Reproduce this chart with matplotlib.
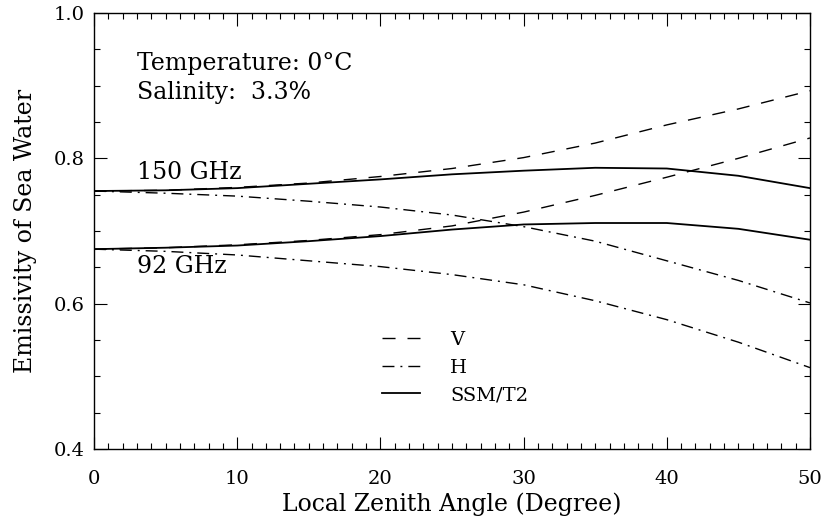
import numpy as np
import matplotlib.pyplot as plt
from matplotlib.ticker import MultipleLocator

# Data
angle = np.array([0, 5, 10, 15, 20, 25, 30, 35, 40, 45, 50])

v_150 = np.array([0.755, 0.756, 0.760, 0.766, 0.775, 0.786, 0.801, 0.821, 0.846, 0.868, 0.893])
h_150 = np.array([0.755, 0.752, 0.748, 0.741, 0.733, 0.722, 0.706, 0.686, 0.659, 0.632, 0.601])
t2_150 = np.array([0.755, 0.756, 0.759, 0.765, 0.771, 0.778, 0.783, 0.787, 0.786, 0.776, 0.759])

v_92 = np.array([0.675, 0.677, 0.681, 0.687, 0.695, 0.707, 0.726, 0.749, 0.774, 0.800, 0.828])
h_92 = np.array([0.675, 0.672, 0.667, 0.659, 0.651, 0.640, 0.626, 0.604, 0.578, 0.547, 0.512])
t2_92 = np.array([0.675, 0.677, 0.680, 0.686, 0.693, 0.702, 0.709, 0.711, 0.711, 0.703, 0.688])

freq_labels = ['150 GHz', '92 GHz']
freq_label_pos = [(3.0, 0.780), (3.0, 0.651)]

plt.rcParams['font.family'] = ['DejaVu Serif']
fs_text = 17
fs_tick = 14
fs_leg = 14

fig = plt.figure(figsize=(8.26, 5.18), dpi=100)
ax = fig.add_axes([0.1138, 0.1332, 0.8668, 0.8417])

dash = (0, (9.4, 8.6))
dashdot = (0, (8.6, 4.3, 1.4, 4.3))
lw = 1.0

ax.plot(angle, v_150, color='black', lw=lw, linestyle=dash, label='V')
ax.plot(angle, h_150, color='black', lw=lw, linestyle=dashdot, label='H')
ax.plot(angle, t2_150, color='black', lw=1.3, linestyle='-', label='SSM/T2')
ax.plot(angle, v_92, color='black', lw=lw, linestyle=dash)
ax.plot(angle, h_92, color='black', lw=lw, linestyle=dashdot)
ax.plot(angle, t2_92, color='black', lw=1.3, linestyle='-')

for txt, (x, y) in zip(freq_labels, freq_label_pos):
    ax.text(x, y, txt, fontsize=fs_text, va='center', ha='left')

ax.text(3.0, 0.931, 'Temperature: 0°C', fontsize=fs_text, va='center', ha='left')
ax.text(3.0, 0.890, 'Salinity:  3.3%', fontsize=fs_text, va='center', ha='left')

ax.legend(loc='upper left', bbox_to_anchor=(0.402, 0.271), frameon=False,
          fontsize=fs_leg, handlelength=1.96, handletextpad=1.55, labelspacing=0.5,
          borderpad=0, borderaxespad=0)

ax.set_xlim(0, 50)
ax.set_ylim(0.4, 1.0)
ax.xaxis.set_major_locator(MultipleLocator(10))
ax.xaxis.set_minor_locator(MultipleLocator(1))
ax.yaxis.set_major_locator(MultipleLocator(0.2))
ax.yaxis.set_minor_locator(MultipleLocator(0.05))
ax.tick_params(which='both', direction='in', top=True, right=True, width=0.8)
ax.tick_params(which='major', length=9, labelsize=fs_tick)
ax.tick_params(axis='x', which='major', pad=15)
ax.tick_params(axis='y', which='major', pad=7)
ax.tick_params(which='minor', length=4.5)
for s in ax.spines.values():
    s.set_linewidth(1.0)

ax.set_xlabel('Local Zenith Angle (Degree)', fontsize=fs_text, labelpad=3)
ax.set_ylabel('Emissivity of Sea Water', fontsize=fs_text, labelpad=12)

fig.savefig('out.png', dpi=100)
